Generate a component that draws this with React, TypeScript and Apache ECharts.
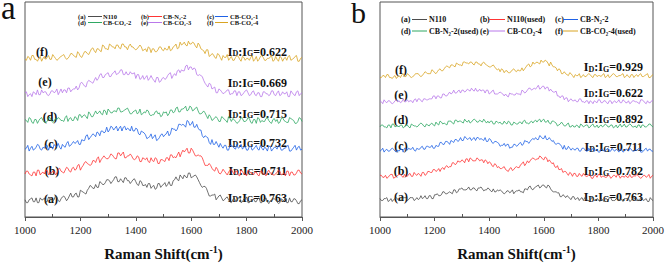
import React, { useEffect, useRef } from "react";
import * as echarts from "echarts";

const FONT = "Liberation Serif, Times New Roman, serif";

// Raman shift sampling (cm-1): main samples every 10 cm-1, mid samples at +5 cm-1
const X: number[] = Array.from({ length: 101 }, (_, i) => 1000 + i * 10);

// ---------- Panel a: intensities (stacked offsets, a.u.) ----------
const A_a = [18,15,19,16,20,15,18,20,16,19, 17,22,17,19,22,17,22,21,24,21, 28,26,24,30,32,30,31,37,34,36, 39,35,39,42,37,38,41,38,35,39, 37,33,37,33,31,35,32,29,35,31, 34,32,37,33,39,39,44,40,42,46, 41,43,42,36,31,32,26,22,23,18, 22,20,18,21,16,18,17,20,15,19, 21,15,17,16,19,15,18,20,14,17, 19,16,15,18,20,15,16,19,17,14, 18];
const A_a_mid = [15,18,20,16,15,20,18,16,21,19, 18,21,16,21,20,19,25,21,25,21, 27,25,28,33,30,34,31,36,34,39, 38,37,42,37,40,36,41,38,37,40, 34,38,33,34,35,30,33,30,35,33, 36,34,33,38,42,38,42,44,41,46, 42,44,39,33,32,30,22,23,24,20, 23,17,20,18,15,20,17,21,16,19, 15,17,19,16,20,15,18,16,17,19, 18,14,19,17,15,20,16,19,14,17];
const A_b = [45,48,44,47,43,49,46,45,49,46, 48,44,50,48,46,52,48,51,49,54, 49,54,58,55,55,59,61,57,62,62, 61,66,63,61,67,66,62,64,66,61, 61,63,58,61,62,57,59,62,56,60, 59,62,59,65,63,65,63,70,70,67, 72,67,64,64,62,54,54,54,49,52, 46,47,48,44,49,47,48,44,49,45, 43,48,46,47,44,48,45,43,49,46, 44,47,48,45,43,48,47,44,46,49, 45];
const A_b_mid = [48,45,43,47,49,44,47,49,44,46, 48,46,51,47,49,51,47,52,50,55, 52,57,56,54,59,57,63,60,64,61, 63,65,61,67,64,68,62,64,64,60, 64,58,62,60,58,62,58,61,56,60, 58,62,65,62,62,68,67,68,72,67, 70,64,65,64,58,54,56,51,48,50, 45,50,46,47,50,45,48,43,48,45, 49,46,44,47,43,48,45,47,46,44, 45,49,44,46,48,43,47,44,49,46];
const A_c = [71,75,72,70,73,75,70,72,75,74, 71,74,77,71,74,77,74,77,77,80, 76,80,85,81,85,86,89,85,90,89, 89,95,91,95,93,90,95,93,90,90, 93,87,90,88,82,84,82,86,81,86, 84,87,85,93,92,92,97,97,94,100, 97,94,97,91,85,85,83,76,76,79, 73,74,75,70,75,74,71,72,76,73, 70,74,70,73,71,75,70,72,74,69, 73,71,74,70,72,75,69,73,70,74, 71];
const A_c_mid = [72,69,74,71,76,71,73,75,70,74, 76,74,73,76,73,79,75,79,78,76, 81,80,86,83,87,84,88,90,88,94, 91,94,93,90,95,94,91,92,95,90, 92,86,89,86,83,87,84,80,83,87, 86,90,87,92,90,97,96,96,101,96, 100,94,93,91,83,84,78,81,76,76, 77,72,75,70,75,72,76,73,71,74, 70,74,71,75,70,72,73,69,74,71, 73,75,70,72,74,69,71,75,73,70];
const A_d = [102,99,103,98,102,101,104,99,100,104, 99,103,104,101,100,106,103,101,105,101, 107,106,105,110,105,108,108,111,107,111, 113,109,111,110,114,110,112,114,108,110, 112,109,107,110,112,107,107,110,108,105, 110, 110,108,112,110,115,110,113,116,112,115, 112,115,108,109,109,103,105,102,105,100, 105,102,99,103,103,100,99,104,100,101, 103,98,102,104,99,100,103,101,98,103, 102,99,104,100,99,103,101,98,104,100];
const A_d_mid = [101,104,99,102,98,103,101,99,104,101, 100,102,103,101,104,100,104,101,104,107, 104,107,103,108,105,111,109,108,112,107, 111,109,111,114,110,111,113,111,108,111, 108,113,108,109,111,106,107,111,109,106, 109,106,112,109,114,110,113,114,111,116, 111,114,111,108,111,106,107,101,104,103, 100,104,101,105,100,102,98,101,103,100, 104,99,102,98,103,101,100,104,99,102, 100,98,103,101,99,104,102,98,100,103];
const A_e = [130,126,129,131,128,128,133,131,128,129, 132,131,128,134,133,130,135,133,134,133, 140,139,136,143,141,143,143,149,146,149, 151,147,151,149,151,154,149,149,152,150, 145,149,145,144,148,145,145,141,146,142, 146,145,150,145,150,153,151,153,158,154, 157,156,149,149,147,140,136,139,135,130, 134,131,130,133,128,129,132,131,127,130, 133,127,131,128,130,126,131,129,127,132, 128,130,127,131,129,126,132,128,131,127, 130];
const A_e_mid = [131,128,126,130,133,128,130,131,127,132, 130,134,131,130,133,135,131,134,137,135, 141,137,141,142,140,146,145,150,146,150, 147,150,153,150,154,149,152,149,150,151, 149,144,148,146,143,148,143,146,141,145, 144,148,151,148,148,154,154,153,159,157, 154,155,148,148,143,138,140,134,136,130, 133,129,131,133,129,132,127,131,128,132, 130,128,132,127,130,126,131,129,128,132, 127,132,128,129,131,126,130,127,132,129];
const A_f = [165,168,164,169,165,166,163,168,167,165, 170,166,165,168,170,165,168,171,168,173, 168,170,173,170,176,174,176,174,180,176, 175,180,178,180,177,181,178,175,181,178, 175,178,178,175,173,177,176,173,175,178, 174, 175,179,175,179,176,183,181,180,184,181, 182,177,180,175,171,175,169,170,166,170, 164,167,170,166,164,167,168,163,167,166, 164,169,165,163,168,167,164,166,169,164, 165,168,163,167,168,164,166,169,163,167];
const A_f_mid = [164,167,169,165,163,168,166,165,169,165, 168,164,167,169,167,166,171,169,167,171, 167,173,171,173,177,172,176,173,179,176, 181,178,176,180,176,181,178,179,178,176, 176,180,174,176,178,172,176,173,178,175, 177,175,174,178,181,177,180,183,179,181, 183,179,182,176,174,175,168,171,167,171, 167,169,167,164,168,164,169,165,168,164, 166,167,163,168,165,169,164,166,167,163, 168,163,167,166,164,169,165,168,163,166];

// ---------- Panel b ----------
const B_a = [19,17,19,16,19,18,20,17,17,20, 17,20,20,18,18,22,20,19,22,19, 23,24,22,26,24,25,25,28,25,29, 30,28,29,28,30,28,30,31,27,28, 29,26,26,28,28,25,25,27,26,24, 27, 28,26,29,28,32,28,31,33,31,33, 30,32,27,26,25,21,23,20,21,18, 21,19,17,20,20,17,17,20,17,18, 19,16,19,20,17,17,19,18,16,19, 19,17,20,17,17,19,18,16,20,17];
const B_a_mid = [17,19,20,17,16,19,18,17,20,20, 18,20,17,20,19,19,22,19,22,19, 23,22,23,26,24,26,24,28,26,29, 28,28,31,28,30,27,30,29,28,30, 27,29,26,27,27,24,27,25,28,26, 27,26,25,29,31,29,30,32,30,33, 31,33,29,26,26,25,21,22,22,19, 21,18,20,19,17,19,17,20,17,19, 16,18,19,17,20,17,19,17,18,19, 19,16,19,18,17,20,17,19,16,18];
const B_b = [43,41,43,41,44,40,42,44,42,44, 42,45,42,44,45,42,46,44,47,46, 49,48,47,51,52,51,52,56,55,57, 59,56,60,61,58,58,60,59,56,58, 57,53,55,51,50,51,49,47,51,49, 52,51,55,53,58,58,61,59,60,62, 59,61,59,55,52,53,49,46,47,43, 45,45,42,45,42,43,42,43,40,43, 44,41,42,41,43,41,43,44,40,42, 43,41,41,43,44,41,41,43,42,40, 43];
const B_b_mid = [43,41,40,43,44,41,43,44,41,42, 44,42,46,43,44,46,43,47,46,49, 47,50,50,49,53,52,56,54,58,57, 58,60,57,60,58,61,58,59,59,55, 56,52,54,52,50,52,48,50,48,51, 51,54,57,55,56,60,60,60,63,60, 62,57,57,56,51,49,50,47,45,46, 42,45,42,43,45,42,44,40,43,41, 44,42,41,43,40,43,41,43,42,41, 41,44,41,42,43,40,43,41,44,42];
const B_c = [68,71,69,68,70,70,67,68,70,71, 69,70,72,68,70,72,70,73,72,74, 71,73,77,75,78,77,79,77,80,79, 79,83,80,82,81,79,82,81,79,78, 81,77,78,77,73,74,73,75,72,75, 73,76,74,79,78,78,81,82,80,83, 81,80,82,78,76,76,75,70,70,73, 69,70,71,68,71,70,68,68,71,69, 67,70,68,70,68,71,68,69,70,67, 70,68,70,68,69,71,67,70,68,70, 68];
const B_c_mid = [69,67,70,68,71,68,69,70,67,71, 71,70,69,71,70,73,70,73,72,71, 74,73,77,75,78,75,78,80,78,82, 79,82,81,79,82,82,80,80,82,78, 80,76,78,76,74,76,75,71,72,75, 74,77,75,78,76,80,80,80,84,81, 84,80,80,79,75,76,73,74,70,71, 71,69,71,68,71,68,71,69,68,70, 67,70,68,71,68,69,70,67,70,68, 70,71,68,69,70,67,68,71,70,68];
const B_d = [93,95,93,95,92,96,94,93,95,93, 95,92,95,94,94,97,94,96,94,97, 94,96,99,96,96,99,99,96,100,99, 98,101,98,97,100,100,98,99,101,97, 97,99,96,98,98,96,97,99,95,98, 96,98,96,100,97,98,97,100,100,98, 101,98,97,99,98,94,96,96,94,97, 93,93,95,92,95,94,95,93,96,93, 92,95,94,95,93,95,93,92,96,94, 93,95,95,93,92,95,95,93,94,96, 93];
const B_d_mid = [95,93,92,95,96,93,94,95,92,95, 93,96,94,93,96,96,93,95,96,95, 98,95,98,97,95,99,97,100,98,99, 97,99,100,98,101,98,100,98,99,99, 99,96,99,97,96,99,96,98,95,97, 96,98,99,97,96,99,99,98,101,100, 98,100,96,99,97,95,98,94,96,93, 95,93,94,96,93,95,92,95,93,95, 94,93,96,93,95,92,95,94,93,96, 93,96,93,94,95,92,95,93,96,94];
const B_e = [120,117,119,120,118,118,121,120,119,119, 121,120,118,122,122,120,122,121,122,122, 125,125,123,127,125,127,127,131,128,131, 131,129,132,130,131,133,130,130,131,131, 127,130,127,127,129,127,127,124,127,126, 128,127,131,128,131,133,132,132,136,133, 135,134,130,130,129,125,123,125,123,119, 122,120,119,122,119,118,120,120,117,119, 121,118,120,118,120,117,120,119,118,121, 118,120,118,120,119,117,121,118,120,118, 120];
const B_e_mid = [119,121,118,120,117,120,119,118,122,119, 119,120,121,119,122,119,122,121,122,125, 122,125,123,127,125,129,128,128,130,128, 131,130,131,133,130,130,132,131,128,131, 128,131,127,128,128,125,125,128,127,126, 127,126,130,129,133,131,133,134,132,135, 132,134,132,129,130,125,125,121,123,121, 120,121,119,122,119,120,117,119,120,118, 121,118,120,117,120,119,118,121,118,120, 118,117,120,119,118,121,120,117,118,120];
const B_f = [144,146,144,147,144,145,143,146,147,145, 148,145,145,148,148,145,148,149,148,152, 149,150,153,151,155,155,157,156,159,157, 156,160,159,160,158,160,158,156,160,157, 155,156,155,152,150,152,151,149,150,153, 150, 151,154,153,157,155,160,159,159,162,160, 161,156,157,155,151,152,148,148,146,148, 144,146,148,145,145,147,147,144,147,146, 145,148,145,144,147,147,145,146,148,145, 145,147,144,147,147,145,146,148,144,147];
const B_f_mid = [144,146,147,144,143,146,145,144,148,145, 147,144,146,148,146,146,150,148,148,151, 148,152,151,153,156,154,157,155,158,157, 160,159,158,160,157,160,158,159,158,156, 155,157,153,153,153,149,151,149,152,151, 152,151,151,155,158,156,158,160,158,160, 162,159,160,155,154,153,148,150,147,149, 146,147,146,144,147,145,148,145,147,145, 146,147,144,147,145,148,145,146,147,144, 147,144,147,146,145,148,145,147,144,146];

const LETTERS = ["(a)", "(b)", "(c)", "(d)", "(e)", "(f)"];
const NAMES_A = ["N110", "CB-N₂-2", "CB-CO₂-1", "CB-CO₂-2", "CB-CO₂-3", "CB-CO₂-4"];
const NAMES_B = ["N110", "N110(used)", "CB-N₂-2", "CB-N₂-2(used)", "CB-CO₂-4", "CB-CO₂-4(used)"];
const RATIO_A = ["0.763", "0.711", "0.732", "0.715", "0.669", "0.622"];
const RATIO_B = ["0.763", "0.782", "0.711", "0.892", "0.622", "0.929"];
const COLORS = ["#4d4d4d", "#ff3535", "#1f62e6", "#2fa863", "#b978ea", "#d9a422"];
const DATA_A = [A_a, A_b, A_c, A_d, A_e, A_f];
const MID_A = [A_a_mid, A_b_mid, A_c_mid, A_d_mid, A_e_mid, A_f_mid];
const DATA_B = [B_a, B_b, B_c, B_d, B_e, B_f];
const MID_B = [B_a_mid, B_b_mid, B_c_mid, B_d_mid, B_e_mid, B_f_mid];

// annotation layout (pixels)
const LETTER_POS_A = [[51, 199], [52, 171], [51, 144], [50, 117], [45, 82], [42, 52]];
const LETTER_POS_B = [[401, 197], [401, 171], [401, 146], [401, 120], [401, 95], [401, 70]];
const RATIO_Y_A = [196, 169, 141, 112, 81, 50];
const RATIO_Y_B = [195.5, 169.5, 145.5, 117, 91, 65.5];

const AXIS_COLOR = "#555";

function buildPoints(main: number[], mid: number[]) {
  const pts: number[][] = [];
  main.forEach((v, k) => {
    pts.push([X[k], v]);
    if (k < mid.length) pts.push([X[k] + 5, mid[k]]);
  });
  return pts;
}

function xAxisCfg(gridIndex: number) {
  return {
    gridIndex,
    type: "value",
    min: 1000,
    max: 2000,
    interval: 200,
    axisLine: { show: true, onZero: false, lineStyle: { color: AXIS_COLOR, width: 1 } },
    axisTick: { show: true, length: 4, lineStyle: { color: AXIS_COLOR } },
    minorTick: { show: true, splitNumber: 2, length: -3, lineStyle: { color: AXIS_COLOR } },
    splitLine: { show: false },
    minorSplitLine: { show: false },
    axisLabel: {
      fontFamily: FONT,
      fontSize: 11,
      color: "#222",
      margin: 7,
      formatter: (v: number) => String(v),
    },
    name: "{b|Raman Shift(cm}{s|-1}{b|)}",
    nameLocation: "middle",
    nameGap: 27,
    nameTextStyle: {
      fontFamily: FONT,
      fontWeight: "bold",
      rich: {
        b: { fontFamily: FONT, fontSize: 15, fontWeight: "bold", color: "#111", verticalAlign: "bottom", lineHeight: 17 },
        s: { fontFamily: FONT, fontSize: 10, fontWeight: "bold", color: "#111", verticalAlign: "top", padding: [0, 0, 7, 0] },
      },
    },
  };
}

function yAxisCfg(gridIndex: number, max: number) {
  return {
    gridIndex,
    type: "value",
    min: 0,
    max,
    show: true,
    axisLine: { show: false },
    axisTick: { show: false },
    axisLabel: { show: false },
    splitLine: { show: false },
  };
}

function ratioText(x: number, y: number, r: string) {
  return {
    type: "text",
    x,
    y,
    silent: true,
    style: {
      text: `{m|I}{s|D}{m|:I}{s|G}{m|=${r}}`,
      align: "right",
      verticalAlign: "middle",
      fill: "#111",
      fontFamily: FONT,
      fontWeight: "bold",
      rich: {
        m: { fontFamily: FONT, fontSize: 12, fontWeight: "bold", fill: "#111", verticalAlign: "top", lineHeight: 12 },
        s: { fontFamily: FONT, fontSize: 8, fontWeight: "bold", fill: "#111", verticalAlign: "bottom", lineHeight: 8, padding: [6, 0, 0, 0] },
      },
    },
  };
}

function plainText(x: number, y: number, text: string, size: number, weight: string, align = "center", lineHeight?: number) {
  const style: any = { text, fill: "#111", align, verticalAlign: "middle", fontFamily: FONT, fontSize: size, fontWeight: weight };
  if (lineHeight) style.lineHeight = lineHeight;
  return { type: "text", x, y, silent: true, style };
}

function legendItems(
  names: string[],
  labelX: number[],
  lineX: number[][],
  nameX: number[],
  rowY: number[],
  size: number
) {
  const out: any[] = [];
  names.forEach((n, i) => {
    const col = i % 3;
    const row = Math.floor(i / 3);
    const y = rowY[row];
    out.push(plainText(labelX[col], y, LETTERS[i], size, "bold", "left", size));
    out.push({
      type: "line",
      silent: true,
      shape: { x1: lineX[col][0], y1: y, x2: lineX[col][1], y2: y },
      style: { stroke: COLORS[i], lineWidth: 1 },
    });
    out.push(plainText(nameX[col], y, n, size, "bold", "left", size));
  });
  return out;
}

export default function App() {
  const ref = useRef<HTMLDivElement>(null);
  useEffect(() => {
    if (!ref.current) return;
    const chart = echarts.init(ref.current, undefined, { renderer: "svg" });
    const series: any[] = [];
    DATA_A.forEach((d, i) =>
      series.push({
        type: "line",
        name: NAMES_A[i],
        xAxisIndex: 0,
        yAxisIndex: 0,
        data: buildPoints(d, MID_A[i]),
        showSymbol: false,
        symbol: "none",
        silent: true,
        lineStyle: { width: 0.8, color: COLORS[i] },
        itemStyle: { color: COLORS[i] },
      })
    );
    DATA_B.forEach((d, i) =>
      series.push({
        type: "line",
        name: NAMES_B[i],
        xAxisIndex: 1,
        yAxisIndex: 1,
        data: buildPoints(d, MID_B[i]),
        showSymbol: false,
        symbol: "none",
        silent: true,
        lineStyle: { width: 0.8, color: COLORS[i] },
        itemStyle: { color: COLORS[i] },
      })
    );

    const graphics: any[] = [];
    graphics.push(plainText(1, 7.5, "a", 33, "normal", "left", 14));
    graphics.push(plainText(351, 12, "b", 30, "normal", "left", 20));
    LETTERS.forEach((l, i) => {
      graphics.push(plainText(LETTER_POS_A[i][0], LETTER_POS_A[i][1], l, 12, "bold"));
      graphics.push(plainText(LETTER_POS_B[i][0], LETTER_POS_B[i][1], l, 12, "bold"));
      graphics.push(ratioText(287, RATIO_Y_A[i] + 1.5, RATIO_A[i]));
      graphics.push(ratioText(643, RATIO_Y_B[i] + 1.5, RATIO_B[i]));
    });
    graphics.push(
      ...legendItems(NAMES_A, [78, 141, 207], [[88, 102], [148, 162], [215, 228]], [103, 163, 230], [16.5, 22.5], 6.5)
    );
    graphics.push(
      ...legendItems(NAMES_B, [401, 480, 555], [[412, 427], [489, 505], [563, 578]], [429, 507, 580], [19.5, 31], 8)
    );

    chart.setOption({
      animation: false,
      backgroundColor: "#ffffff",
      textStyle: { fontFamily: FONT },
      grid: [
        { left: 25, top: 2, width: 277, height: 225, show: true, borderColor: AXIS_COLOR, borderWidth: 1, backgroundColor: "transparent" },
        { left: 380, top: 2, width: 276, height: 222, show: true, borderColor: AXIS_COLOR, borderWidth: 1, backgroundColor: "transparent" },
      ],
      xAxis: [xAxisCfg(0), xAxisCfg(1)],
      yAxis: [yAxisCfg(0, 225), yAxisCfg(1, 222)],
      series,
      graphic: graphics,
    });
    return () => chart.dispose();
  }, []);
  return (
    <div
      ref={ref}
      style={{ position: "absolute", left: 0, top: 0, width: 667, height: 266, background: "#fff" }}
    />
  );
}
